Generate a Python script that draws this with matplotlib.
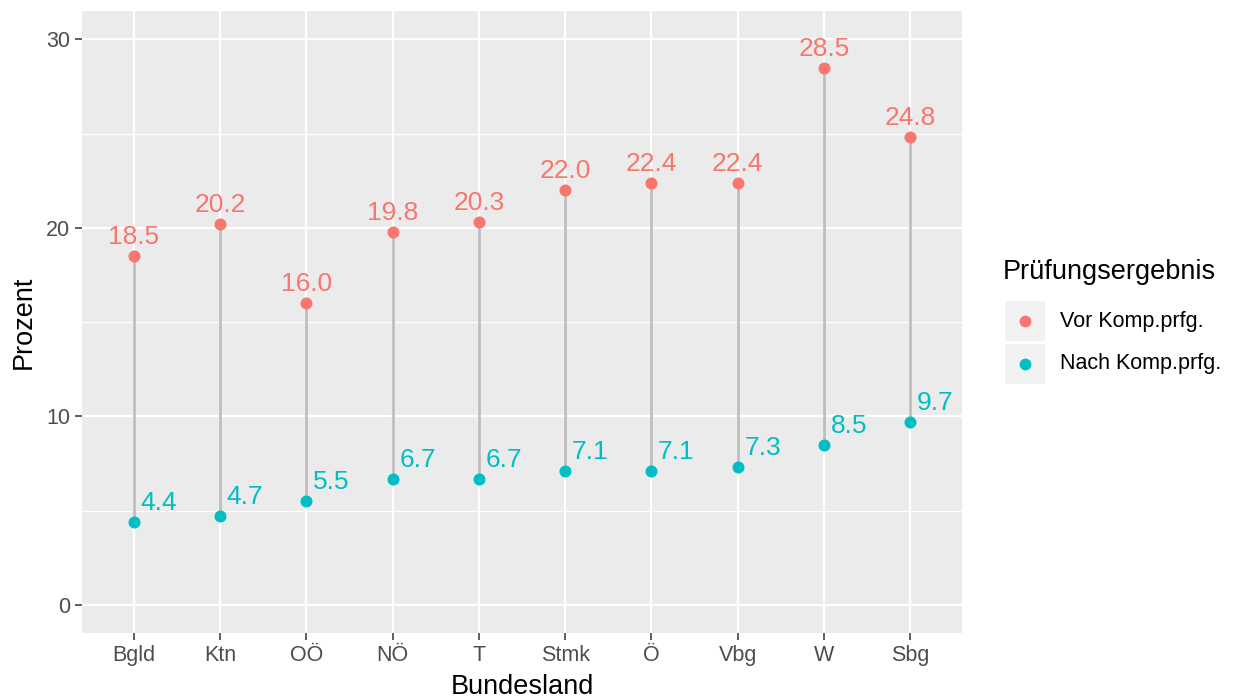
import numpy as np
import matplotlib.pyplot as plt
from matplotlib.lines import Line2D
from matplotlib.patches import Rectangle

plt.rcParams['font.family'] = ['Liberation Sans', 'DejaVu Sans']

laender = ["Bgld", "Ktn", "OÖ", "NÖ", "T", "Stmk", "Ö", "Vbg", "W", "Sbg"]
vor = [18.5, 20.2, 16.0, 19.8, 20.3, 22.0, 22.4, 22.4, 28.5, 24.8]
nach = [4.4, 4.7, 5.5, 6.7, 6.7, 7.1, 7.1, 7.3, 8.5, 9.7]
serien = ["Vor Komp.prfg.", "Nach Komp.prfg."]
farben = ["#F8766D", "#00BFC4"]

fig = plt.figure(figsize=(12.35, 6.98), dpi=100)
ax = fig.add_axes([82/1235, 1 - 633/698, (962-82)/1235, (633-11)/698])

x = np.arange(len(laender))

# panel like ggplot theme_grey
ax.set_facecolor("#EBEBEB")
for s in ax.spines.values():
    s.set_visible(False)
ax.set_yticks([0, 10, 20, 30])
ax.set_yticks([5, 15, 25], minor=True)
ax.set_xticks(x)
ax.set_xticklabels(laender)
ax.grid(which="major", color="white", linewidth=1.6)
ax.grid(which="minor", axis="y", color="white", linewidth=0.8)
ax.set_axisbelow(True)
ax.tick_params(which="major", length=5, width=1.1, color="#333333",
               labelcolor="#4D4D4D", labelsize=15.5, pad=3.5)
ax.tick_params(which="minor", length=0)

ax.vlines(x, nach, vor, color="#BEBEBE", linewidth=2, zorder=2)
ax.scatter(x, vor, s=75, color=farben[0], zorder=3, linewidths=0)
ax.scatter(x, nach, s=75, color=farben[1], zorder=3, linewidths=0)

for xi, v in zip(x, vor):
    ax.text(xi, v + 1.0, f"{v:.1f}", color=farben[0], fontsize=19,
            ha="center", va="center")
for xi, n in zip(x, nach):
    ax.text(xi + 0.29, n + 1.0, f"{n:.1f}", color=farben[1], fontsize=19,
            ha="center", va="center")

ax.set_xlim(-0.6, len(laender) - 0.4)
ax.set_ylim(-1.49, 31.5)
ax.set_xlabel("Bundesland", fontsize=19.5, labelpad=6)
ax.set_ylabel("Prozent", fontsize=19.5, labelpad=7)

# legend
W, H = 1235, 698
fig.text(1003/W, 1 - 272/H, "Prüfungsergebnis", fontsize=19.5, va="center", ha="left")
for i, (lab, col) in enumerate(zip(serien, farben)):
    y0 = 301 + i * 43
    fig.add_artist(Rectangle((1005/W, 1 - (y0 + 40)/H), 40/W, 40/H,
                             transform=fig.transFigure, facecolor="#F2F2F2",
                             edgecolor="none"))
    fig.add_artist(Line2D([1025/W], [1 - (y0 + 20)/H], marker="o", markersize=8.5,
                          color=col, markeredgewidth=0, linestyle="none",
                          transform=fig.transFigure))
    fig.text(1060/W, 1 - (y0 + 20)/H, lab, fontsize=15.5, va="center", ha="left")

fig.savefig("out.png", dpi=100)
